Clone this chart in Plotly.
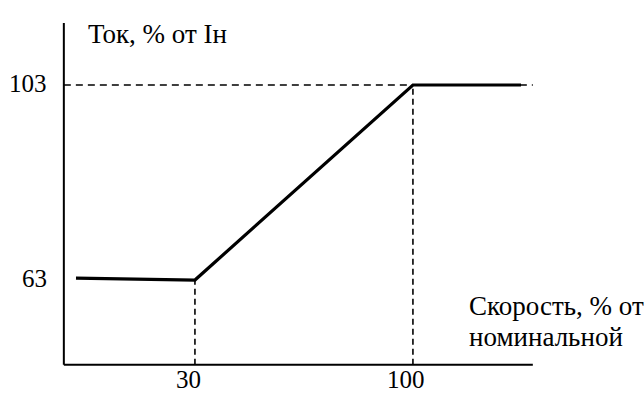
import plotly.graph_objects as go

# Characteristic: current (% of rated) vs speed (% of nominal)
speed = [-8.2, 30, 100, 134.7]
current = [63.4, 63, 103, 103]

x_ticks = [30, 100]
x_tick_labels = ["30", "100"]
y_ticks = [63, 103]
y_tick_labels = ["63", "103"]

y_title = "Ток, % от Iн"
x_title = ["Скорость, % от", "номинальной"]

FONT = dict(family="Liberation Serif", size=27, color="black")
TICK_FONT = dict(family="Liberation Serif", size=25, color="black")

# axis frame extents (data units)
X0, X1 = -12.1, 138.5
Y0, Y1 = 45.6, 115.7

fig = go.Figure()

fig.add_trace(go.Scatter(
    x=speed, y=current, mode="lines",
    line=dict(color="black", width=3.2),
    hoverinfo="skip", showlegend=False,
))

shapes = [
    # axes
    dict(type="line", x0=X0, x1=X0, y0=Y0, y1=Y1, line=dict(color="black", width=2)),
    dict(type="line", x0=X0, x1=X1, y0=Y0, y1=Y0, line=dict(color="black", width=2)),
    # reference level at the upper plateau
    dict(type="line", x0=X0, x1=X1, y0=y_ticks[1], y1=y_ticks[1],
         line=dict(color="black", width=1.6, dash="7px,5px")),
]
# drop lines from the break points to the speed axis
for xv, yv in zip(speed[1:3], current[1:3]):
    shapes.append(dict(type="line", x0=xv, x1=xv, y0=Y0, y1=yv,
                       line=dict(color="black", width=1.6, dash="6px,4px")))

annotations = []
for xv, lab in zip(x_ticks, x_tick_labels):
    annotations.append(dict(x=xv - 2.1, y=42.6, text=lab, showarrow=False,
                            xanchor="center", yanchor="middle", font=TICK_FONT))
for yv, lab in zip(y_ticks, y_tick_labels):
    annotations.append(dict(x=X0 - 4.8, y=yv + 0.4, text=lab, showarrow=False,
                            xanchor="right", yanchor="middle", font=TICK_FONT))
annotations.append(dict(x=X0 + 7.0, y=Y1 - 2.2, text=y_title, showarrow=False,
                        xanchor="left", yanchor="middle", font=FONT))
annotations.append(dict(x=X1 - 21.0, y=Y0 + 12.1, text=x_title[0], showarrow=False,
                        xanchor="left", yanchor="middle", font=FONT))
annotations.append(dict(x=X1 - 21.0, y=Y0 + 5.8, text=x_title[1], showarrow=False,
                        xanchor="left", yanchor="middle", font=FONT))

fig.update_layout(
    width=644, height=394,
    margin=dict(l=0, r=0, t=0, b=0),
    paper_bgcolor="white", plot_bgcolor="white",
    xaxis=dict(range=[-32.6, 174.2], visible=False, fixedrange=True),
    yaxis=dict(range=[39.62, 120.44], visible=False, fixedrange=True),
    shapes=shapes,
    annotations=annotations,
    showlegend=False,
)

fig.write_html("out.html")
